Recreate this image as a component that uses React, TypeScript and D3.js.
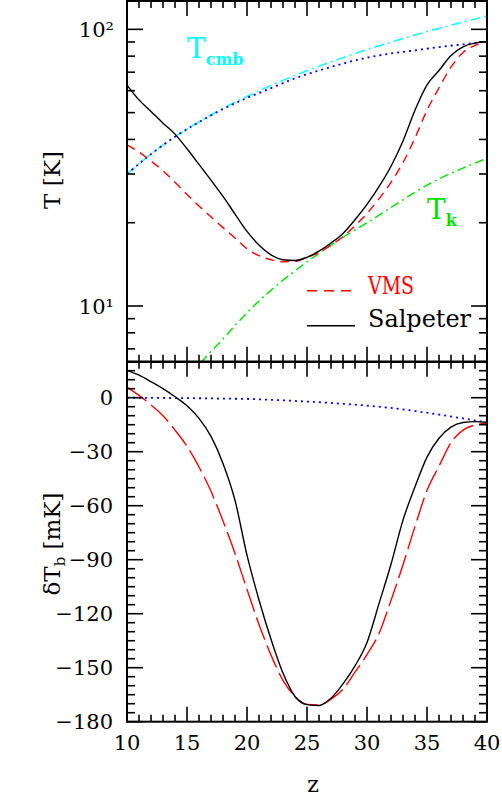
import React from 'react';
import * as d3 from 'd3';

// redshift grid for the stellar models
const zGrid = [10, 11, 12, 13, 14, 15, 16, 17, 18, 19, 20, 21, 22, 23, 24, 25,
  26, 27, 28, 29, 30, 31, 32, 33, 34, 35, 36, 37, 38, 39, 40];

// top panel, spin temperature [K]
const tSalpeter = [62.9, 55.6, 50.5, 45.8, 41.8, 37.0, 32.5, 28.5, 24.9, 21.5, 18.6, 16.6,
  15.3, 14.7, 14.6, 15.0, 15.8, 16.9, 18.3, 20.5, 23.3, 27.0, 32.0, 39.5, 51.0, 63.0,
  71.0, 80.5, 86.5, 89.2, 90.5];
const tVMS = [38.2, 36.0, 33.4, 30.8, 28.0, 25.3, 23.0, 21.0, 19.2, 17.6, 16.1, 15.2,
  14.7, 14.45, 14.5, 15.0, 15.6, 16.6, 17.8, 19.5, 21.6, 24.4, 28.0, 33.0, 40.5, 51.0,
  61.5, 73.0, 82.5, 87.5, 90.5];

// bottom panel, brightness temperature [mK]
const dtSalpeter = [15.2, 12.5, 8.9, 5.0, 0.5, -4.5, -11.5, -21.5, -36.5, -57, -87.5, -112.4,
  -134.2, -153, -166, -170.5, -171, -167, -159, -149, -136, -114.4, -92.5, -68, -49.5,
  -33, -22.5, -16.3, -13.8, -13.3, -13.6];
const dtVMS = [5.9, 1.3, -4, -10, -18, -27, -38.5, -52, -68.5, -86.5, -106.5, -126,
  -143, -157, -166, -170.4, -170.7, -167.5, -162, -152.5, -142.7, -131, -112.6, -92.8,
  -71.5, -51.5, -38, -25, -18, -15.2, -14.3];

// no-star reference curves
const zCoarse = [10, 12, 14, 16, 18, 20, 22, 24, 26, 28, 30, 32, 34, 36, 38, 40];
const tCmb = [30.0, 35.4, 40.9, 46.3, 51.8, 57.2, 62.7, 68.1, 73.6, 79.0, 84.5, 89.9,
  95.4, 100.8, 106.3, 111.7];
const tSpinNoStars = [30.0, 35.4, 40.9, 46.2, 51.5, 56.5, 61.3, 66.5, 71.0, 75.2, 79.0,
  81.8, 84.0, 86.2, 88.3, 90.3];
const dtNoStars = [0, -0.1, -0.2, -0.3, -0.5, -0.7, -1.2, -1.8, -2.5, -3.4, -4.4, -5.7,
  -7.4, -9.4, -11.5, -13.8];

const zKin = [15, 16, 17, 18, 19, 20, 22, 24, 26, 28, 30, 32, 33, 34, 36, 38, 40];
const tKin = [5.6, 6.15, 6.85, 7.6, 8.5, 9.45, 11.4, 13.4, 15.5, 17.7, 20.0, 22.7, 24.2,
  25.8, 28.8, 31.5, 34.2];

const xTicks = [10, 15, 20, 25, 30, 35, 40];
const dtTicks = [0, -30, -60, -90, -120, -150, -180];

const W = 502, H = 803;
const X0 = 127, X1 = 487, YT = 1, YM = 361.7, YB = 721.7;
const serif = '"DejaVu Serif", serif';

export default function App() {
  const x = d3.scaleLinear().domain([10, 40]).range([X0, X1]);
  const yT = d3.scaleLog().domain([6.29, 126.6]).range([YM, YT]);
  const yB = d3.scaleLinear().domain([-180, 20]).range([YB, YM]);

  const lineT = (zs: number[], vs: number[]) =>
    d3.line<number>().x((_, i) => x(zs[i])).y(d => yT(d)).curve(d3.curveMonotoneX)(vs) as string;
  const lineB = (zs: number[], vs: number[]) =>
    d3.line<number>().x((_, i) => x(zs[i])).y(d => yB(d)).curve(d3.curveMonotoneX)(vs) as string;

  const zMinor = d3.range(10, 41, 1);
  const logMinor = [7, 8, 9, 20, 30, 40, 50, 60, 70, 80, 90];
  const dtMinor = d3.range(-180, 21, 5);

  const ticks: JSX.Element[] = [];
  // x ticks on both panels
  zMinor.forEach(z => {
    const L = z % 5 === 0 ? 15 : 7;
    const px = x(z);
    ticks.push(<line key={'xt' + z} x1={px} x2={px} y1={YT} y2={YT + L} />);
    ticks.push(<line key={'xm1' + z} x1={px} x2={px} y1={YM - L} y2={YM + L} />);
    ticks.push(<line key={'xb' + z} x1={px} x2={px} y1={YB} y2={YB - L} />);
  });
  [10, 100].concat(logMinor).forEach(v => {
    const L = v === 10 || v === 100 ? 16 : 8;
    const py = yT(v);
    ticks.push(<line key={'yl' + v} x1={X0} x2={X0 + L} y1={py} y2={py} />);
    ticks.push(<line key={'yr' + v} x1={X1} x2={X1 - L} y1={py} y2={py} />);
  });
  dtMinor.forEach(v => {
    const L = v % 30 === 0 ? 16 : 8;
    const py = yB(v);
    ticks.push(<line key={'bl' + v} x1={X0} x2={X0 + L} y1={py} y2={py} />);
    ticks.push(<line key={'br' + v} x1={X1} x2={X1 - L} y1={py} y2={py} />);
  });

  return (
    <svg width={W} height={H} style={{ position: 'absolute', left: 0, top: 0, background: '#fff' }}
      fontFamily={serif}>
      <defs>
        <clipPath id="clipTop"><rect x={X0} y={YT} width={X1 - X0} height={YM - YT} /></clipPath>
        <clipPath id="clipBot"><rect x={X0} y={YM} width={X1 - X0} height={YB - YM} /></clipPath>
      </defs>

      <g clipPath="url(#clipTop)" fill="none" strokeWidth={1.4}>
        <path d={lineT(zCoarse, tCmb)} stroke="#00ffff" strokeDasharray="10,4,2,4" />
        <path d={lineT(zCoarse, tSpinNoStars)} stroke="#0000ff" strokeDasharray="2,4" strokeWidth={1.8} />
        <path d={lineT(zKin, tKin)} stroke="#00e000" strokeDasharray="9,4,2,4" />
        <path d={lineT(zGrid, tVMS)} stroke="#ff0000" strokeDasharray="9,6" />
        <path d={lineT(zGrid, tSalpeter)} stroke="#000" />
      </g>
      <g clipPath="url(#clipBot)" fill="none" strokeWidth={1.4}>
        <path d={lineB(zCoarse, dtNoStars)} stroke="#0000ff" strokeDasharray="2,4" strokeWidth={1.8} />
        <path d={lineB(zGrid, dtVMS)} stroke="#ff0000" strokeDasharray="24,6" />
        <path d={lineB(zGrid, dtSalpeter)} stroke="#000" />
      </g>

      <g stroke="#000" strokeWidth={1.6}>{ticks}</g>
      <rect x={X0} y={YT} width={X1 - X0} height={YB - YT} fill="none" stroke="#000" strokeWidth={2} />
      <line x1={X0} x2={X1} y1={YM} y2={YM} stroke="#000" strokeWidth={2.5} />

      {/* top axis labels */}
      <g fontSize={21} textAnchor="end">
        <text x={114} y={yT(100)} dy="0.36em">10²</text>
        <text x={114} y={yT(10)} dy="0.36em">10¹</text>
      </g>
      {/* bottom axis labels */}
      <g fontSize={21} textAnchor="end">
        {dtTicks.map(v => (
          <text key={v} x={113} y={yB(v)} dy="0.36em">{v < 0 ? '\u2212' + Math.abs(v) : v}</text>
        ))}
      </g>
      <g fontSize={21} textAnchor="middle">
        {xTicks.map(v => (
          <text key={v} x={x(v)} y={750}>{v}</text>
        ))}
      </g>

      <text x={x(25.5)} y={792} fontSize={22} textAnchor="middle">z</text>
      <text transform={`translate(60,180) rotate(-90)`} fontSize={23} textAnchor="middle">T [K]</text>
      <text transform={`translate(60,544) rotate(-90)`} fontSize={23} textAnchor="middle">
        δT<tspan fontSize={15} dy="5">b</tspan><tspan dy="-5"> [mK]</tspan>
      </text>

      {/* curve labels */}
      <text x={187} y={58} fontSize={28} fill="#00ffff">T<tspan fontSize={16} dy="7" fontWeight="bold">cmb</tspan></text>
      <text x={427} y={219} fontSize={28} fill="#00e000">T<tspan fontSize={16} dy="7" fontWeight="bold">k</tspan></text>

      {/* legend */}
      <line x1={307} x2={355} y1={290.7} y2={290.7} stroke="#ff0000" strokeWidth={1.4} strokeDasharray="10,7" />
      <text x={368} y={294} fontSize={24} fill="#ff0000" textLength={46} lengthAdjust="spacingAndGlyphs">VMS</text>
      <line x1={307} x2={355} y1={325.7} y2={325.7} stroke="#000" strokeWidth={1.4} />
      <text x={368} y={327} fontSize={24} textLength={103} lengthAdjust="spacingAndGlyphs">Salpeter</text>
    </svg>
  );
}
